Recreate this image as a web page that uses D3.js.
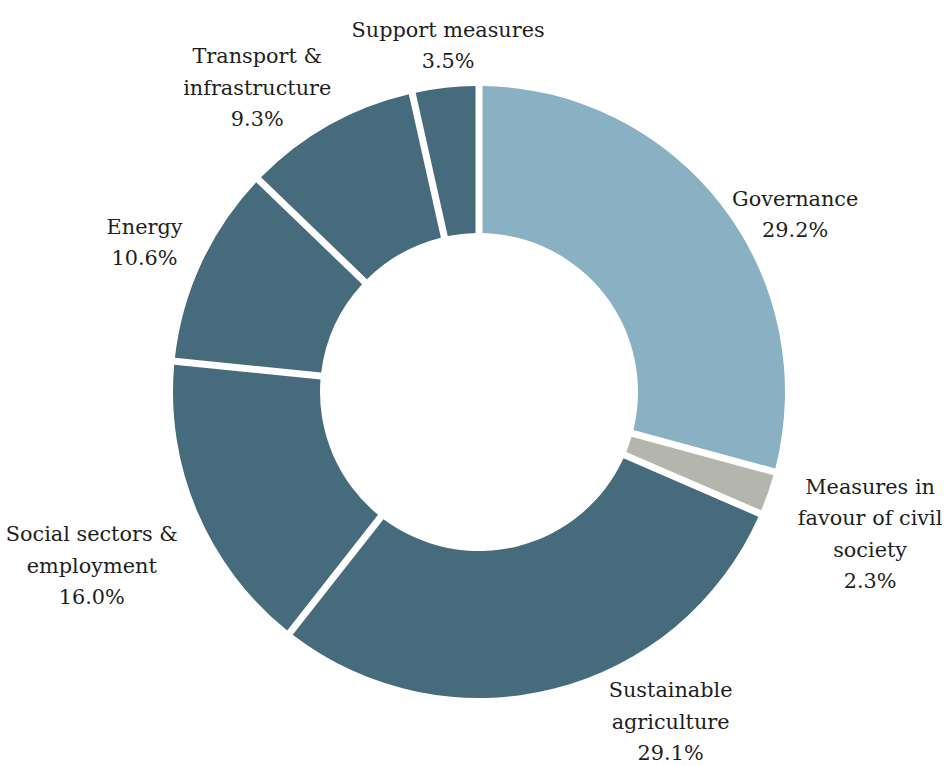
<!DOCTYPE html>
<html>
<head>
<meta charset="utf-8">
<script src="https://cdn.jsdelivr.net/npm/d3@7"></script>
<style>
  html, body { margin: 0; padding: 0; background: #ffffff; }
  svg { display: block; }
</style>
</head>
<body>
<svg id="chart" width="949" height="765"></svg>
<script>
// ---- data ----
const categories = [
  "Governance",
  "Measures in favour of civil society",
  "Sustainable agriculture",
  "Social sectors & employment",
  "Energy",
  "Transport & infrastructure",
  "Support measures"
];
const values = [29.2, 2.3, 29.1, 16.0, 10.6, 9.3, 3.5];
const labelLines = [
  ["Governance"],
  ["Measures in", "favour of civil", "society"],
  ["Sustainable", "agriculture"],
  ["Social sectors &", "employment"],
  ["Energy"],
  ["Transport &", "infrastructure"],
  ["Support measures"]
];
const sliceColors = ["#8ab1c3", "#b4b5ac", "#466b7c", "#466b7c", "#466b7c", "#466b7c", "#466b7c"];

// ---- layout ----
const cx = 479, cy = 392, R = 306, r0 = 159;
const labelR = 373;
const labelNudge = [[20, 48], [39, 18], [100, -33], [-44, 27], [4, 6], [-39, 20], [10, 23]];
const lineH = 31.5;

const svg = d3.select("#chart");
const g = svg.append("g").attr("transform", `translate(${cx},${cy})`);

const data = categories.map((c, i) => ({ name: c, value: values[i], i }));
const pie = d3.pie().value(d => d.value).sort(null);
const arcs = pie(data);

const arc = d3.arc().innerRadius(r0).outerRadius(R).padAngle(7 / R).padRadius(R);
const labelArc = d3.arc().innerRadius(labelR).outerRadius(labelR);

g.selectAll("path.slice")
  .data(arcs)
  .join("path")
  .attr("class", "slice")
  .attr("d", arc)
  .attr("fill", d => sliceColors[d.data.i]);

const fmt = d3.format(".1f");
arcs.forEach(a => {
  const i = a.data.i;
  const [x, y] = labelArc.centroid(a);
  const lx = x + labelNudge[i][0];
  const ly = y + labelNudge[i][1];
  const lines = labelLines[i].concat([fmt(values[i]) + "%"]);
  const n = lines.length;
  const t = g.append("text")
    .attr("text-anchor", "middle")
    .attr("font-family", "'DejaVu Serif', serif")
    .attr("font-size", 20.8)
    .attr("fill", "#1e1e1e");
  lines.forEach((s, k) => {
    t.append("tspan")
      .attr("x", lx)
      .attr("y", ly - (n - 1) * lineH / 2 + k * lineH + 8)
      .text(s);
  });
});
</script>
</body>
</html>
